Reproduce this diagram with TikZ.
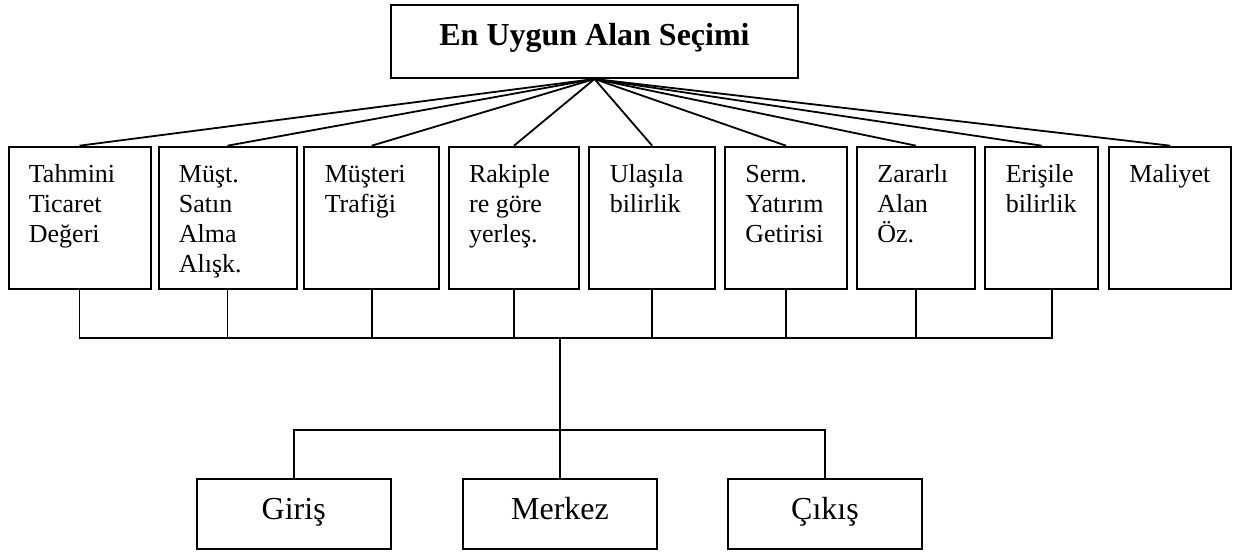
\documentclass[tikz,border=0pt]{standalone}
\usepackage{fontspec}
\setmainfont{Liberation Serif}
\usetikzlibrary{calc,positioning}

\begin{document}
\begin{tikzpicture}[x=1pt,y=-1pt,line width=1.8pt,
  kutu/.style={draw,line width=2pt,inner sep=0pt},
  kriter/.style={kutu,minimum height=142pt},
  yazi/.style={anchor=north west,align=left,inner sep=0pt,font=\fontsize{26}{30}\selectfont},
  alt/.style={kutu,minimum width=194pt,minimum height=70pt,text height=21pt,text depth=11pt,font=\fontsize{32}{36}\selectfont}]
\useasboundingbox (0,0) rectangle (1237,554);
% goal
\node[kutu,minimum width=407pt,minimum height=73pt,text height=21pt,text depth=14pt,font=\bfseries\fontsize{32}{36}\selectfont] (hedef) at (594.5,41.5) {En Uygun Alan Seçimi};
% criteria
\foreach \i/\cx/\w/\t in {1/79.5/142/{Tahmini\\Ticaret\\Değeri},2/227.5/138/{Müşt.\\Satın\\Alma\\Alışk.},3/371.7/134.7/{Müşteri\\Trafiği},4/514/130.6/{Rakiple\\re göre\\yerleş.},5/652.2/125.7/{Ulaşıla\\bilirlik},6/786/122/{Serm.\\Yatırım\\Getirisi},7/916/118/{Zararlı\\Alan\\Öz.},8/1041.7/112.7/{Erişile\\bilirlik},9/1170.2/122.3/{Maliyet}}{
  \node[kriter,minimum width=\w pt] (k\i) at (\cx,217.7) {};
  \node[yazi] (y\i) at ([xshift=20.5pt,yshift=-15pt]k\i.north west) {\strut\t};
  \draw (hedef.south) -- (k\i.north);
}
% collecting line
\coordinate (bus) at (560,338);
\coordinate (ayrim) at (560,430);
\coordinate (k8x) at ([xshift=10.6pt]k8.south);
\draw (k1.south) -- (k1.south |- bus) -- (k8x |- bus) -- (k8x);
\foreach \i in {2,...,7}{\draw (k\i.south) -- (k\i.south |- bus);}
% alternatives
\node[alt] (giris) at (293.7,514) {Giriş};
\node[alt] (merkez) at (560,514) {Merkez};
\node[alt] (cikis) at (825,514) {Çıkış};
\draw (bus) -- (merkez.north);
\draw (giris.north) -- (giris.north |- ayrim) -- (cikis.north |- ayrim) -- (cikis.north);
\end{tikzpicture}
\end{document}
